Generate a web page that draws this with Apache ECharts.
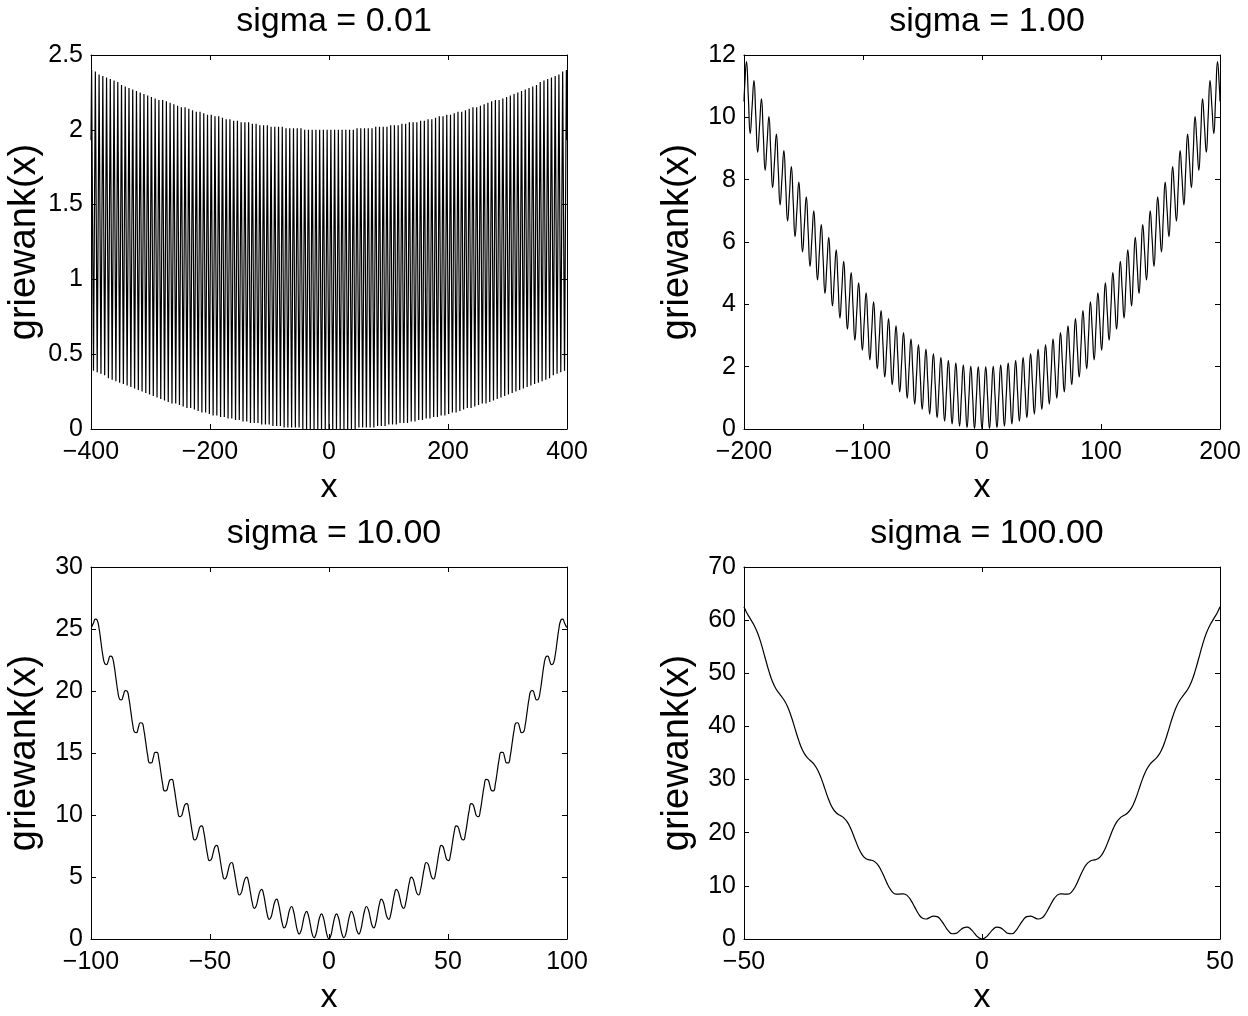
<!DOCTYPE html>
<html>
<head>
<meta charset="utf-8">
<title>griewank</title>
<script src="https://cdn.jsdelivr.net/npm/echarts@6/dist/echarts.min.js"></script>
<style>
    html, body { margin: 0; padding: 0; background: #fff; }
    #main { width: 1248px; height: 1016px; }
</style>
</head>
<body>
<div id="main"></div>
<script>
    // panel titles
    var sigmaTitles = ['sigma = 0.01', 'sigma = 1.00', 'sigma = 10.00', 'sigma = 100.00'];

    // axis ranges and tick steps, one entry per panel
    var xMax = [400, 200, 100, 50];
    var xStep = [200, 100, 50, 50];
    var yMax = [2.5, 12, 30, 70];
    var yStep = [0.5, 2, 5, 10];

    // curve samples
    // panel 1: alternating peaks / troughs, one every pi
    var sigma001 = [
        2.40, 0.39, 2.39, 0.38, 2.37, 0.37, 2.36, 0.36, 2.35, 0.34, 2.34, 0.33, 2.33, 0.32, 2.32, 0.31,
        2.30, 0.30, 2.29, 0.29, 2.28, 0.28, 2.27, 0.27, 2.26, 0.26, 2.25, 0.25, 2.24, 0.24, 2.23, 0.23,
        2.22, 0.22, 2.21, 0.21, 2.20, 0.20, 2.20, 0.19, 2.19, 0.18, 2.18, 0.17, 2.17, 0.17, 2.16, 0.16,
        2.15, 0.15, 2.15, 0.14, 2.14, 0.14, 2.13, 0.13, 2.12, 0.12, 2.12, 0.11, 2.11, 0.11, 2.10, 0.10,
        2.10, 0.09, 2.09, 0.09, 2.09, 0.08, 2.08, 0.08, 2.07, 0.07, 2.07, 0.07, 2.06, 0.06, 2.06, 0.06,
        2.05, 0.05, 2.05, 0.05, 2.05, 0.04, 2.04, 0.04, 2.04, 0.04, 2.03, 0.03, 2.03, 0.03, 2.03, 0.03,
        2.02, 0.02, 2.02, 0.02, 2.02, 0.02, 2.02, 0.01, 2.01, 0.01, 2.01, 0.01, 2.01, 0.01, 2.01, 0.01,
        2.01, 0, 2, 0, 2, 0, 2, 0, 2, 0, 2, 0, 2, 0, 2,
        0,
        2, 0, 2, 0, 2, 0, 2, 0, 2, 0, 2, 0, 2, 0, 2.01,
        0.01, 2.01, 0.01, 2.01, 0.01, 2.01, 0.01, 2.01, 0.01, 2.02, 0.02, 2.02, 0.02, 2.02, 0.02, 2.02,
        0.03, 2.03, 0.03, 2.03, 0.03, 2.03, 0.04, 2.04, 0.04, 2.04, 0.04, 2.05, 0.05, 2.05, 0.05, 2.05,
        0.06, 2.06, 0.06, 2.06, 0.07, 2.07, 0.07, 2.07, 0.08, 2.08, 0.08, 2.09, 0.09, 2.09, 0.09, 2.10,
        0.10, 2.10, 0.11, 2.11, 0.11, 2.12, 0.12, 2.12, 0.13, 2.13, 0.14, 2.14, 0.14, 2.15, 0.15, 2.15,
        0.16, 2.16, 0.17, 2.17, 0.17, 2.18, 0.18, 2.19, 0.19, 2.20, 0.20, 2.20, 0.21, 2.21, 0.22, 2.22,
        0.23, 2.23, 0.24, 2.24, 0.25, 2.25, 0.26, 2.26, 0.27, 2.27, 0.28, 2.28, 0.29, 2.29, 0.30, 2.30,
        0.31, 2.32, 0.32, 2.33, 0.33, 2.34, 0.34, 2.35, 0.36, 2.36, 0.37, 2.37, 0.38, 2.39, 0.39, 2.40
    ];
    // panel 2: one sample every pi/2
    var sigma1 = [
        10.95, 11.79, 10.64, 9.48, 10.33, 11.18, 10.03, 8.88, 9.74, 10.59, 9.44, 8.30, 9.16, 10.02, 8.88, 7.74,
        8.60, 9.46, 8.33, 7.19, 8.06, 8.93, 7.80, 6.67, 7.54, 8.42, 7.29, 6.17, 7.05, 7.92, 6.80, 5.68,
        6.57, 7.45, 6.34, 5.22, 6.11, 7.00, 5.89, 4.78, 5.67, 6.56, 5.46, 4.35, 5.25, 6.15, 5.05, 3.95,
        4.85, 5.75, 4.66, 3.56, 4.47, 5.38, 4.29, 3.20, 4.11, 5.02, 3.94, 2.85, 3.77, 4.69, 3.61, 2.53,
        3.45, 4.37, 3.30, 2.22, 3.15, 4.08, 3.00, 1.93, 2.87, 3.80, 2.73, 1.67, 2.60, 3.54, 2.48, 1.42,
        2.36, 3.31, 2.25, 1.19, 2.14, 3.09, 2.04, 0.99, 1.94, 2.89, 1.84, 0.80, 1.76, 2.71, 1.67, 0.63,
        1.59, 2.56, 1.52, 0.48, 1.45, 2.42, 1.39, 0.36, 1.33, 2.30, 1.27, 0.25, 1.22, 2.20, 1.18, 0.16,
        1.14, 2.12, 1.10, 0.09, 1.07, 2.06, 1.05, 0.04, 1.03, 2.02, 1.02, 0.01, 1.01, 2.00, 1.00,
        0,
        1.00, 2.00, 1.01, 0.01, 1.02, 2.02, 1.03, 0.04, 1.05, 2.06, 1.07, 0.09, 1.10, 2.12, 1.14,
        0.16, 1.18, 2.20, 1.22, 0.25, 1.27, 2.30, 1.33, 0.36, 1.39, 2.42, 1.45, 0.48, 1.52, 2.56, 1.59,
        0.63, 1.67, 2.71, 1.76, 0.80, 1.84, 2.89, 1.94, 0.99, 2.04, 3.09, 2.14, 1.19, 2.25, 3.31, 2.36,
        1.42, 2.48, 3.54, 2.60, 1.67, 2.73, 3.80, 2.87, 1.93, 3.00, 4.08, 3.15, 2.22, 3.30, 4.37, 3.45,
        2.53, 3.61, 4.69, 3.77, 2.85, 3.94, 5.02, 4.11, 3.20, 4.29, 5.38, 4.47, 3.56, 4.66, 5.75, 4.85,
        3.95, 5.05, 6.15, 5.25, 4.35, 5.46, 6.56, 5.67, 4.78, 5.89, 7.00, 6.11, 5.22, 6.34, 7.45, 6.57,
        5.68, 6.80, 7.92, 7.05, 6.17, 7.29, 8.42, 7.54, 6.67, 7.80, 8.93, 8.06, 7.19, 8.33, 9.46, 8.60,
        7.74, 8.88, 10.02, 9.16, 8.30, 9.44, 10.59, 9.74, 8.88, 10.03, 11.18, 10.33, 9.48, 10.64, 11.79, 10.95
    ];
    // panels 3 and 4: one sample every pi/4
    var sigma10 = [
        25.17, 25.48, 25.80, 25.71, 25.04, 23.95, 22.87, 22.21, 22.13, 22.47, 22.82, 22.75, 22.10, 21.04, 19.98, 19.34,
        19.29, 19.66, 20.03, 19.99, 19.36, 18.33, 17.29, 16.68, 16.65, 17.04, 17.44, 17.42, 16.82, 15.81, 14.80, 14.21,
        14.21, 14.63, 15.05, 15.05, 14.48, 13.49, 12.51, 11.94, 11.97, 12.41, 12.85, 12.88, 12.33, 11.37, 10.41, 9.87,
        9.92, 10.38, 10.85, 10.91, 10.38, 9.45, 8.51, 7.99, 8.07, 8.56, 9.05, 9.13, 8.63, 7.72, 6.81, 6.32,
        6.41, 6.93, 7.45, 7.55, 7.08, 6.19, 5.30, 4.84, 4.96, 5.50, 6.04, 6.17, 5.72, 4.86, 4.00, 3.55,
        3.70, 4.26, 4.83, 4.99, 4.56, 3.72, 2.89, 2.47, 2.64, 3.23, 3.82, 4.00, 3.60, 2.78, 1.97, 1.58,
        1.77, 2.39, 3.00, 3.21, 2.83, 2.04, 1.26, 0.89, 1.11, 1.75, 2.39, 2.62, 2.26, 1.50, 0.74, 0.40,
        0.64, 1.30, 1.97, 2.22, 1.89, 1.15, 0.42, 0.10, 0.37, 1.06, 1.75, 2.02, 1.72, 1.01, 0.29,
        0,
        0.29, 1.01, 1.72, 2.02, 1.75, 1.06, 0.37, 0.10, 0.42, 1.15, 1.89, 2.22, 1.97, 1.30, 0.64,
        0.40, 0.74, 1.50, 2.26, 2.62, 2.39, 1.75, 1.11, 0.89, 1.26, 2.04, 2.83, 3.21, 3.00, 2.39, 1.77,
        1.58, 1.97, 2.78, 3.60, 4.00, 3.82, 3.23, 2.64, 2.47, 2.89, 3.72, 4.56, 4.99, 4.83, 4.26, 3.70,
        3.55, 4.00, 4.86, 5.72, 6.17, 6.04, 5.50, 4.96, 4.84, 5.30, 6.19, 7.08, 7.55, 7.45, 6.93, 6.41,
        6.32, 6.81, 7.72, 8.63, 9.13, 9.05, 8.56, 8.07, 7.99, 8.51, 9.45, 10.38, 10.91, 10.85, 10.38, 9.92,
        9.87, 10.41, 11.37, 12.33, 12.88, 12.85, 12.41, 11.97, 11.94, 12.51, 13.49, 14.48, 15.05, 15.05, 14.63, 14.21,
        14.21, 14.80, 15.81, 16.82, 17.42, 17.44, 17.04, 16.65, 16.68, 17.29, 18.33, 19.36, 19.99, 20.03, 19.66, 19.29,
        19.34, 19.98, 21.04, 22.10, 22.75, 22.82, 22.47, 22.13, 22.21, 22.87, 23.95, 25.04, 25.71, 25.80, 25.48, 25.17
    ];
    var sigma100 = [
        61.50, 60.28, 59.09, 57.52, 55.39, 52.88, 50.40, 48.36, 46.94, 45.97, 45.03, 43.70, 41.82, 39.55, 37.32, 35.53,
        34.36, 33.63, 32.94, 31.86, 30.22, 28.20, 26.22, 24.67, 23.75, 23.27, 22.82, 21.99, 20.60, 18.83, 17.09, 15.79,
        15.11, 14.88, 14.68, 14.09, 12.95, 11.43, 9.93, 8.88, 8.45, 8.46, 8.51, 8.17, 7.27, 6.00, 4.75, 3.95,
        3.76, 4.02, 4.31, 4.22, 3.57, 2.54, 1.54, 0.99, 1.05, 1.56, 2.09, 2.25, 1.85, 1.06, 0.31,
        0,
        0.31, 1.06, 1.85, 2.25, 2.09, 1.56, 1.05, 0.99, 1.54, 2.54, 3.57, 4.22, 4.31, 4.02, 3.76,
        3.95, 4.75, 6.00, 7.27, 8.17, 8.51, 8.46, 8.45, 8.88, 9.93, 11.43, 12.95, 14.09, 14.68, 14.88, 15.11,
        15.79, 17.09, 18.83, 20.60, 21.99, 22.82, 23.27, 23.75, 24.67, 26.22, 28.20, 30.22, 31.86, 32.94, 33.63, 34.36,
        35.53, 37.32, 39.55, 41.82, 43.70, 45.03, 45.97, 46.94, 48.36, 50.40, 52.88, 55.39, 57.52, 59.09, 60.28, 61.50
    ];
    // value at the very ends of each x range
    var edgeValues = [1.93, 10.51, 25.14, 62.53];

    var allSamples = [sigma001, sigma1, sigma10, sigma100];
    // x spacing of the samples (centred on x = 0)
    var sampleStep = [Math.PI, Math.PI / 2, Math.PI / 4, Math.PI / 4];

    function buildLine(ys, step, xEnd, yEnd) {
        var mid = (ys.length - 1) / 2;
        var pts = [[-xEnd, yEnd]];
        for (var i = 0; i < ys.length; i++) {
            pts.push([(i - mid) * step, ys[i]]);
        }
        pts.push([xEnd, yEnd]);
        return pts;
    }

    var FONT = 'Liberation Sans, Arial, Helvetica, sans-serif';
    var minus = function (v) { return String(v).replace('-', '\u2212'); };

    // panel boxes (left, top)
    var boxes = [[91, 55], [744, 55], [91, 567], [744, 567]];
    var boxW = 476, boxH = 374;

    var grids = [], xAxes = [], yAxes = [], series = [], titles = [];

    for (var p = 0; p < 4; p++) {
        grids.push({ left: boxes[p][0], top: boxes[p][1], width: boxW, height: boxH, containLabel: false });
        titles.push({
            text: sigmaTitles[p],
            left: boxes[p][0] + boxW / 2,
            top: boxes[p][1] - 55,
            textAlign: 'center',
            textStyle: { fontFamily: FONT, fontSize: 34, fontWeight: 'normal', color: '#000', lineHeight: 34 }
        });
    }

    // main axes (bottom / left), index 0..3
    for (var p = 0; p < 4; p++) {
        xAxes.push({
            type: 'value', gridIndex: p, position: 'bottom',
            min: -xMax[p], max: xMax[p], interval: xStep[p],
            name: 'x', nameLocation: 'middle', nameGap: 42,
            nameTextStyle: { fontFamily: FONT, fontSize: 34, color: '#000', lineHeight: 34 },
            axisLine: { onZero: false, lineStyle: { color: '#000', width: 1 } },
            axisTick: { inside: true, length: 5, lineStyle: { color: '#000' } },
            axisLabel: { margin: 11, fontFamily: FONT, fontSize: 25, color: '#000', formatter: minus },
            splitLine: { show: false }
        });
        yAxes.push({
            type: 'value', gridIndex: p, position: 'left',
            min: 0, max: yMax[p], interval: yStep[p],
            name: 'griewank(x)', nameLocation: 'middle', nameGap: 47, nameRotate: 90,
            nameTextStyle: { fontFamily: FONT, fontSize: 38, color: '#000', lineHeight: 38 },
            axisLine: { onZero: false, lineStyle: { color: '#000', width: 1 } },
            axisTick: { inside: true, length: 5, lineStyle: { color: '#000' } },
            axisLabel: { margin: 8, fontFamily: FONT, fontSize: 25, color: '#000' },
            splitLine: { show: false }
        });
    }
    // mirrored axes (top / right) for the box and the inner ticks, index 4..7
    for (var p = 0; p < 4; p++) {
        xAxes.push({
            type: 'value', gridIndex: p, position: 'top',
            min: -xMax[p], max: xMax[p], interval: xStep[p],
            axisLine: { onZero: false, lineStyle: { color: '#000', width: 1 } },
            axisTick: { inside: true, length: 5, lineStyle: { color: '#000' } },
            axisLabel: { show: false },
            splitLine: { show: false }
        });
        yAxes.push({
            type: 'value', gridIndex: p, position: 'right',
            min: 0, max: yMax[p], interval: yStep[p],
            axisLine: { onZero: false, lineStyle: { color: '#000', width: 1 } },
            axisTick: { inside: true, length: 5, lineStyle: { color: '#000' } },
            axisLabel: { show: false },
            splitLine: { show: false }
        });
    }

    for (var p = 0; p < 4; p++) {
        series.push({
            type: 'line',
            xAxisIndex: p,
            yAxisIndex: p,
            data: buildLine(allSamples[p], sampleStep[p], xMax[p], edgeValues[p]),
            showSymbol: false,
            smooth: p === 0 ? false : true,
            clip: true,
            silent: true,
            lineStyle: { color: '#000', width: 1.2 }
        });
    }

    var myChart = echarts.init(document.getElementById('main'));
    var option = {
        backgroundColor: '#fff',
        animation: false,
        title: titles,
        grid: grids,
        xAxis: xAxes,
        yAxis: yAxes,
        series: series
    };
    myChart.setOption(option);
</script>
</body>
</html>
